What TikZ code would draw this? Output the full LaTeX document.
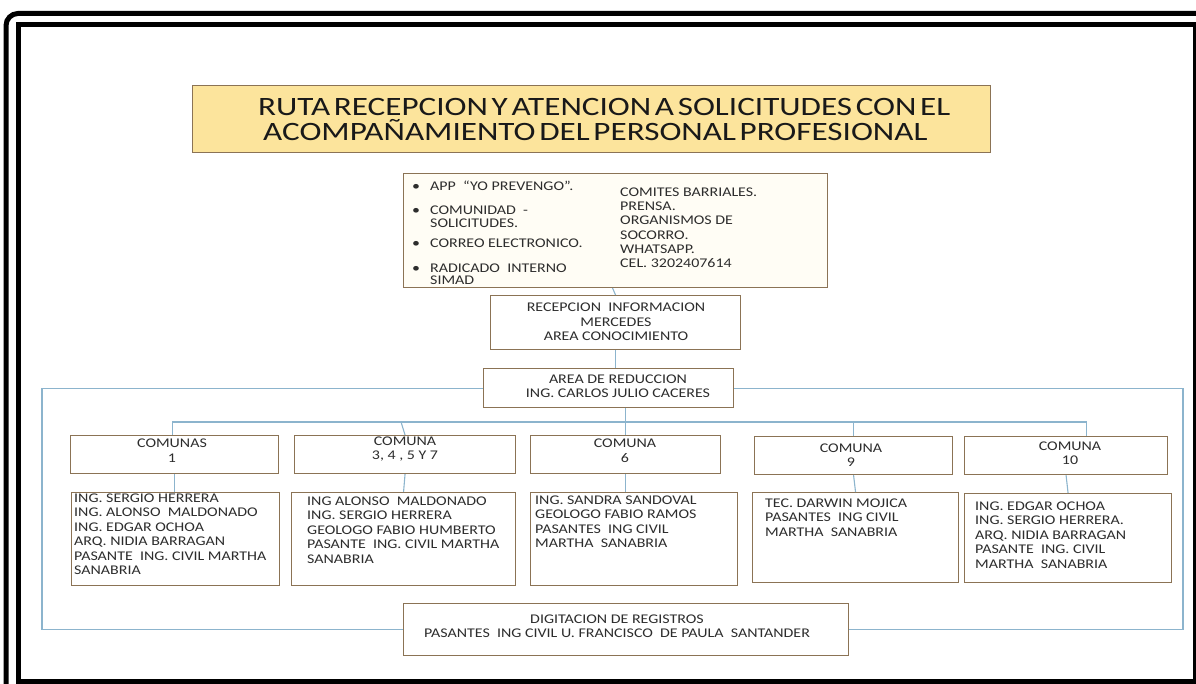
\documentclass[tikz,border=0pt]{standalone}
\usepackage{fontspec}
\setmainfont{Carlito}[FakeStretch=1.2]
\newfontfamily\titlefont{Carlito}[FakeStretch=1.25,WordSpace=0.5]
\definecolor{boxline}{RGB}{139,115,85}
\definecolor{linkblue}{RGB}{140,180,205}
\definecolor{titlefill}{RGB}{252,228,156}
\definecolor{srcfill}{RGB}{255,253,245}
\definecolor{ink}{RGB}{45,45,45}

\begin{document}
\begin{tikzpicture}
[x=1pt,y=-1pt,
 box/.style={draw=boxline,line width=1.1pt,fill=white,inner sep=0pt,anchor=north west},
 link/.style={draw=linkblue,line width=1.1pt},
 txt/.style={inner sep=0pt,align=center,text=ink,font=\fontsize{13.3}{14.5}\selectfont},
 names/.style={txt,align=left,anchor=north west}]

  \useasboundingbox (0,0) rectangle (1196,684);
  % page frame
  \draw[line width=5pt,rounded corners=12pt] (6,13.5) rectangle (1230,720);
  \draw[line width=5pt] (18,24.5) rectangle (1195,681);

  % title
  \node[box,fill=titlefill,minimum width=798pt,minimum height=67pt] (title) at (192,85) {};
  \node[anchor=north west,inner sep=0pt,align=left,text=black!90,
        font={\titlefont\fontsize{26.5}{25}\selectfont}] (titletxt) at (258,98)
    {RUTA RECEPCION Y ATENCION A SOLICITUDES CON EL\\\hspace*{5pt}ACOMPAÑAMIENTO DEL PERSONAL PROFESIONAL};

  % sources
  \node[box,fill=srcfill,minimum width=424pt,minimum height=114pt] (src) at (403,173) {};
  \node[names,font=\fontsize{13.3}{13}\selectfont] (srcleft) at (412,180.5)
    {\makebox[18pt][l]{•}APP~ “YO PREVENGO”.\\[11pt]
     \makebox[18pt][l]{•}COMUNIDAD~ -\\
     \hspace*{18pt}SOLICITUDES.\\[7pt]
     \makebox[18pt][l]{•}CORREO ELECTRONICO.\\[12pt]
     \makebox[18pt][l]{•}RADICADO~ INTERNO\\[-1pt]
     \hspace*{18pt}SIMAD};
  \node[names,font=\fontsize{13.3}{14.3}\selectfont] (srcright) at (620,187.5)
    {COMITES BARRIALES.\\PRENSA.\\ORGANISMOS DE\\SOCORRO.\\WHATSAPP.\\CEL. 3202407614};

  % reception and reduction
  \node[box,minimum width=250pt,minimum height=54pt] (recep) at (490,295) {};
  \node[txt] (receptxt) at (616,322) {RECEPCION~ INFORMACION\\MERCEDES\\AREA CONOCIMIENTO};
  \node[box,minimum width=250pt,minimum height=39pt] (area) at (483,368) {};
  \node[txt] (areatxt) at (618,386) {AREA DE REDUCCION\\ING. CARLOS JULIO CACERES};

  % comunas
  \node[box,minimum width=208pt,minimum height=38pt] (c1) at (70,435) {};
  \node[txt] (c1txt) at (172,450.5) {COMUNAS\\1};
  \node[box,minimum width=221pt,minimum height=38pt] (c3) at (294,435) {};
  \node[txt] (c3txt) at (405,449) {COMUNA\\3, 4 , 5 Y 7};
  \node[box,minimum width=190pt,minimum height=38pt] (c6) at (530,435) {};
  \node[txt] (c6txt) at (625,450.5) {COMUNA\\6};
  \node[box,minimum width=198pt,minimum height=38pt] (c9) at (754,436) {};
  \node[txt] (c9txt) at (851,455) {COMUNA\\9};
  \node[box,minimum width=203pt,minimum height=38pt] (c10) at (964,436) {};
  \node[txt] (c10txt) at (1070,453) {COMUNA\\10};

  % staff of each comuna
  \node[box,minimum width=208pt,minimum height=93pt] (p1) at (71,492) {};
  \node[names] (p1txt) at (74,493.5)
    {ING. SERGIO HERRERA\\ING. ALONSO~ MALDONADO\\ING. EDGAR OCHOA\\ARQ. NIDIA BARRAGAN\\PASANTE~ ING. CIVIL MARTHA\\SANABRIA};
  \node[box,minimum width=224pt,minimum height=93pt] (p2) at (291,492) {};
  \node[names] (p2txt) at (307,496.5)
    {ING ALONSO~ MALDONADO\\ING. SERGIO HERRERA\\GEOLOGO FABIO HUMBERTO\\PASANTE~ ING. CIVIL MARTHA\\SANABRIA};
  \node[box,minimum width=207pt,minimum height=93pt] (p3) at (530,492) {};
  \node[names] (p3txt) at (535,495.5)
    {ING. SANDRA SANDOVAL\\GEOLOGO FABIO RAMOS\\PASANTES~ ING CIVIL\\MARTHA~ SANABRIA};
  \node[box,minimum width=206pt,minimum height=90pt] (p4) at (752,492) {};
  \node[names] (p4txt) at (765,498.5)
    {TEC. DARWIN MOJICA\\PASANTES~ ING CIVIL\\MARTHA~ SANABRIA};
  \node[box,minimum width=207pt,minimum height=89pt] (p5) at (964,493) {};
  \node[names] (p5txt) at (975,501.5)
    {ING. EDGAR OCHOA\\ING. SERGIO HERRERA.\\ARQ. NIDIA BARRAGAN\\PASANTE~ ING. CIVIL\\MARTHA~ SANABRIA};

  % records
  \node[box,minimum width=445pt,minimum height=52pt] (digit) at (403,603) {};
  \node[txt] (digittxt) at (617,626)
    {DIGITACION DE REGISTROS\\PASANTES~ ING CIVIL U. FRANCISCO~ DE PAULA~ SANTANDER};

  % connectors
  \coordinate (bus) at (625,422);
  \coordinate (loopL) at (42,0);
  \coordinate (loopR) at (1183,0);
  \draw[link] ([xshift=-3pt]src.south) -- (recep.north);
  \draw[link] (recep.south) -- (recep.south |- area.north);
  \draw[link] (c6.north |- area.south) -- (c6.north);
  \draw[link] ([xshift=-2pt]c1.north) -- ([xshift=-2pt]c1.north |- bus)
    -- ([xshift=20.5pt]c10.north |- bus) -- ([xshift=20.5pt]c10.north);
  \draw[link] ([xshift=-4pt]c3.north |- bus) -- (c3.north);
  \draw[link] (c9.north |- bus) -- (c9.north);
  \draw[link] (c1.south) -- (c1.south |- p1.north);
  \draw[link] (c3.south) -- (p2.north);
  \draw[link] (c6.south) -- (c6.south |- p3.north);
  \draw[link] (c9.south) -- (p4.north);
  \draw[link] (c10.south) -- (p5.north);
  \draw[link] (area.west) -| (loopL |- digit.west) -- (digit.west);
  \draw[link] (area.east) -| (loopR |- digit.east) -- (digit.east);
\end{tikzpicture}
\end{document}
